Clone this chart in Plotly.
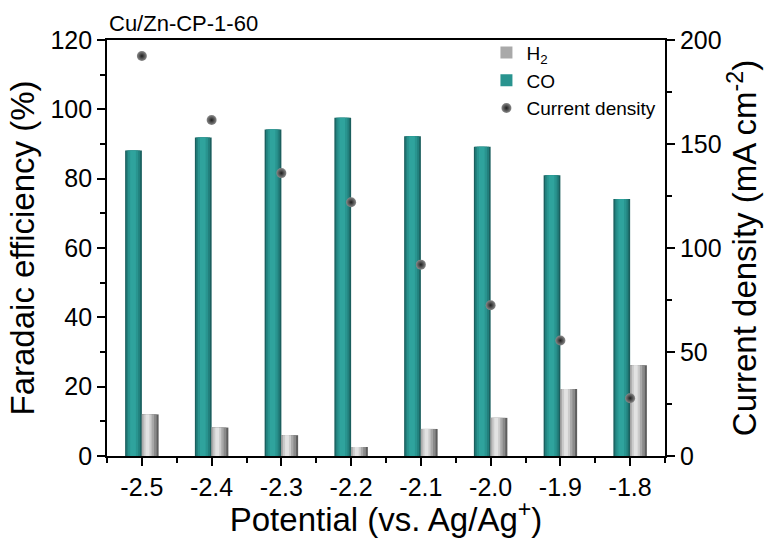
import plotly.graph_objects as go

# ---- data ----
potential = [-2.5, -2.4, -2.3, -2.2, -2.1, -2.0, -1.9, -1.8]
tick_labels = ["-2.5", "-2.4", "-2.3", "-2.2", "-2.1", "-2.0", "-1.9", "-1.8"]
fe_co = [88.1, 91.9, 94.2, 97.6, 92.2, 89.2, 81.0, 74.1]
fe_h2 = [12.0, 8.2, 6.0, 2.6, 7.8, 11.0, 19.3, 26.2]
current_density = [192.3, 161.5, 136.0, 122.0, 92.0, 72.5, 55.5, 27.8]

FONT = "Liberation Sans, Arial, sans-serif"
BW = 0.024  # width of a bar in x units

fig = go.Figure()

# CO bars: layered (dark edges, bright centre) to mimic shaded cylinder
co_layers = [
    (0.00, 1.00, "#1b5f5e"),
    (0.08, 0.90, "#22807d"),
    (0.18, 0.78, "#29948f"),
    (0.30, 0.64, "#2fa39d"),
]
for i, (f0, f1, col) in enumerate(co_layers):
    fig.add_trace(go.Bar(
        x=potential, y=fe_co, width=BW * (f1 - f0), offset=-BW + BW * f0,
        marker=dict(color=col, line=dict(width=0)),
        name="CO", legendgroup="co", showlegend=(i == 2), legendrank=2,
        yaxis="y",
    ))

# H2 bars: grey gradient, lighter at left-middle, dark at right edge
h2_layers = [
    (0.00, 1.00, "#5e5e5e"),
    (0.00, 0.88, "#8a8a8a"),
    (0.00, 0.72, "#a9a9a9"),
    (0.10, 0.58, "#cbcbcb"),
    (0.22, 0.45, "#e2e2e2"),
]
for i, (f0, f1, col) in enumerate(h2_layers):
    fig.add_trace(go.Bar(
        x=potential, y=fe_h2, width=BW * (f1 - f0), offset=BW * f0,
        marker=dict(color=col, line=dict(width=0)),
        name="H<sub>2</sub>", legendgroup="h2", showlegend=(i == 2), legendrank=1,
        yaxis="y",
    ))

fig.add_trace(go.Scatter(
    x=potential, y=current_density, mode="markers",
    marker=dict(size=10, color="#8a8a8a",
                gradient=dict(type="radial", color="#1e1e1e"),
                line=dict(width=0)),
    name="Current density", legendrank=3, yaxis="y2",
))

axis_common = dict(
    showgrid=False, zeroline=False, showline=True, linecolor="black",
    linewidth=1.8, ticks="outside", ticklen=8, tickwidth=1.6,
    tickcolor="black", tickfont=dict(family=FONT, size=25, color="black"),
)

fig.update_layout(
    width=764, height=538,
    margin=dict(l=107, r=99, t=40, b=80),
    paper_bgcolor="white", plot_bgcolor="white",
    barmode="overlay",
    font=dict(family=FONT, color="black"),
    xaxis=dict(
        **axis_common,
        range=[-2.55, -1.75], mirror=True,
        tickmode="array", tickvals=potential, ticktext=tick_labels,
        minor=dict(tickmode="linear", tick0=-2.55, dtick=0.1,
                   ticks="outside", ticklen=5, tickwidth=1.6, tickcolor="black"),
        title=dict(text="Potential (vs. Ag/Ag<sup>+</sup>)",
                   font=dict(family=FONT, size=33), standoff=2),
    ),
    yaxis=dict(
        **axis_common,
        range=[0, 120], dtick=20, tick0=0,
        minor=dict(dtick=10, ticks="outside", ticklen=5, tickwidth=1.6, tickcolor="black"),
        title=dict(text="Faradaic efficiency (%)",
                   font=dict(family=FONT, size=33), standoff=6),
    ),
    yaxis2=dict(
        **axis_common,
        overlaying="y", side="right",
        range=[0, 200], dtick=50, tick0=0,
        minor=dict(dtick=25, ticks="outside", ticklen=5, tickwidth=1.6, tickcolor="black"),
        title=dict(text="Current density (mA cm<sup>-2</sup>)",
                   font=dict(family=FONT, size=33), standoff=6),
    ),
    legend=dict(
        x=0.68, y=1.015, xanchor="left", yanchor="top",
        bgcolor="rgba(0,0,0,0)", font=dict(family=FONT, size=19, color="black"),
        tracegroupgap=0,
    ),
    annotations=[dict(
        text="Cu/Zn-CP-1-60", xref="paper", yref="paper", x=0, y=1,
        xanchor="left", yanchor="bottom", showarrow=False, yshift=2,
        font=dict(family=FONT, size=22, color="black"),
    )],
)

fig.write_html("out.html")
